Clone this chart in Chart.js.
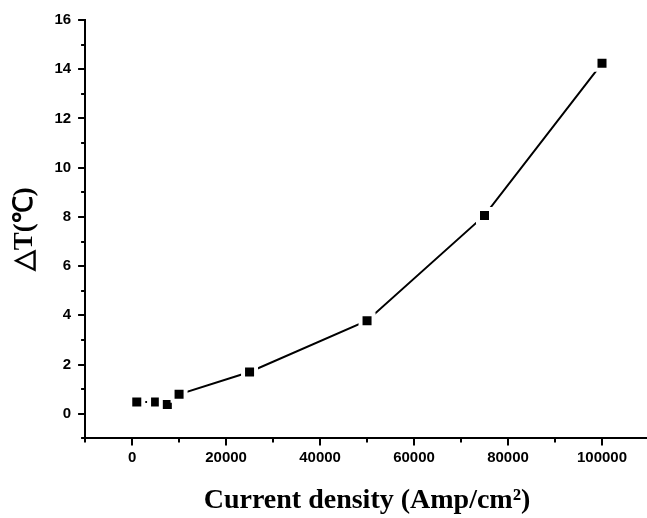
<!DOCTYPE html>
<html>
<head>
<meta charset="utf-8">
<script src="https://cdn.jsdelivr.net/npm/chart.js@4/dist/chart.umd.min.js"></script>
<style>
  html, body { margin: 0; padding: 0; background: #fff; overflow: hidden; }
  #wrap { width: 652px; height: 518px; }
</style>
</head>
<body>
<div id="wrap"><canvas id="dtChart"></canvas></div>
<script>
// current density (Amp/cm2) and temperature rise (°C)
const currentDensity = [1000, 5000, 7500, 10000, 25000, 50000, 75000, 100000];
const deltaT = [0.48, 0.48, 0.38, 0.79, 1.70, 3.78, 8.06, 14.24];

const xAxisTitle = 'Current density (Amp/cm²)';
const yAxisTitle = '△T(℃)';

document.addEventListener("DOMContentLoaded", function () {
  const ctx = document.getElementById('dtChart').getContext('2d');

  const xMajor = v => v % 20000 === 0;
  const yMajor = v => v % 2 === 0;

  // outward ticks: long at labelled values, short in between
  const axisTicks = {
    id: 'axisTicks',
    afterDraw(chart) {
      const c = chart.ctx;
      const xs = chart.scales.x, ys = chart.scales.y;
      c.save();
      c.strokeStyle = '#000';
      c.lineWidth = 2;
      c.beginPath();
      xs.ticks.forEach(t => {
        const len = xMajor(t.value) ? 7 : 4;
        const px = Math.round(xs.getPixelForValue(t.value));
        c.moveTo(px, xs.top);
        c.lineTo(px, xs.top + len);
      });
      ys.ticks.forEach(t => {
        const len = yMajor(t.value) ? 7 : 4;
        const py = Math.round(ys.getPixelForValue(t.value));
        c.moveTo(ys.right, py);
        c.lineTo(ys.right - len, py);
      });
      c.stroke();
      c.restore();
    }
  };

  new Chart(ctx, {
    type: 'line',
    data: {
      datasets: [{
        data: currentDensity.map((x, i) => ({ x: x, y: deltaT[i] })),
        borderColor: '#000',
        borderWidth: 2,
        tension: 0,
        fill: false,
        pointStyle: 'rect',
        pointRadius: 9.2,
        pointHoverRadius: 9.2,
        pointBackgroundColor: '#000',
        pointBorderColor: '#fff',
        pointBorderWidth: 4,
        pointHoverBorderWidth: 4
      }]
    },
    options: {
      responsive: true,
      maintainAspectRatio: false,
      animation: false,
      layout: { autoPadding: false, padding: { top: 20, right: 0, left: 0, bottom: 0 } },
      plugins: {
        legend: { display: false },
        tooltip: { enabled: false }
      },
      events: [],
      scales: {
        x: {
          type: 'linear',
          min: -10000,
          max: 110000,
          border: { color: '#000', width: 2 },
          grid: {
            drawOnChartArea: false,
            tickLength: 7,
            tickColor: 'rgba(0,0,0,0)'
          },
          ticks: {
            stepSize: 10000,
            autoSkip: false,
            maxRotation: 0,
            padding: 3,
            color: '#000',
            font: { family: 'Liberation Sans, Arial', size: 15, weight: 'bold' },
            callback: v => (xMajor(v) ? String(v) : '')
          },
          title: {
            display: true,
            text: xAxisTitle,
            color: '#000',
            font: { family: 'Liberation Serif, Times New Roman', size: 28, weight: 'bold' },
            padding: { top: 15, bottom: 0 }
          }
        },
        y: {
          min: -1,
          max: 16,
          border: { color: '#000', width: 2 },
          grid: {
            drawOnChartArea: false,
            tickLength: 7,
            tickColor: 'rgba(0,0,0,0)'
          },
          ticks: {
            stepSize: 1,
            autoSkip: false,
            padding: 7,
            color: '#000',
            font: { family: 'Liberation Sans, Arial', size: 15, weight: 'bold' },
            callback: v => (yMajor(v) ? String(v) : '')
          },
          title: {
            display: true,
            text: yAxisTitle,
            color: '#000',
            font: { family: 'Liberation Serif, Times New Roman', size: 27, weight: 'bold' },
            padding: { top: 9, bottom: 6 }
          }
        }
      }
    },
    plugins: [axisTicks]
  });
});
</script>
</body>
</html>
